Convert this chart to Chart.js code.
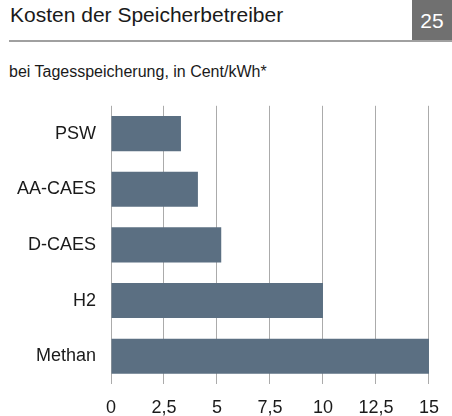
<!DOCTYPE html>
<html>
<head>
<meta charset="utf-8">
<script src="https://cdn.jsdelivr.net/npm/chart.js@4"></script>
<style>
  body { margin: 0; width: 452px; height: 416px; position: relative; background: #fff; font-family: "Liberation Sans", Arial, sans-serif; color: #1a1a1a; overflow: hidden; }
  #title { position: absolute; left: 10px; top: 4px; font-size: 21px; line-height: 21px; white-space: nowrap; }
  #num { position: absolute; left: 412px; top: 0; width: 40px; height: 40px; background: #707070; }
  #num span { position: absolute; left: 0; width: 40px; top: 10px; font-size: 21px; line-height: 21px; text-align: center; color: #fff; }
  #rule { position: absolute; left: 9px; top: 40px; width: 443px; height: 2px; background: #a0a0a0; }
  #sub { position: absolute; left: 9px; top: 64px; font-size: 16px; line-height: 16px; white-space: nowrap; }
  #wrap { position: absolute; left: 0; top: 80px; width: 452px; height: 336px; }
</style>
</head>
<body>
<div id="title">Kosten der Speicherbetreiber</div>
<div id="num"><span>25</span></div>
<div id="rule"></div>
<div id="sub">bei Tagesspeicherung, in Cent/kWh*</div>
<div id="wrap"><canvas id="myChart" width="452" height="336"></canvas></div>
<script>
// Kategorien und Werte (Cent/kWh)
const categories = ["PSW", "AA-CAES", "D-CAES", "H2", "Methan"];
const costValues = [3.3, 4.1, 5.2, 10, 15];
const xTicks = [0, 2.5, 5, 7.5, 10, 12.5, 15];

window.onload = Main;

function Main() {
  let ctx = document.getElementById("myChart");
  new Chart(ctx, {
    type: "bar",
    data: {
      labels: categories,
      datasets: [
        {
          data: costValues,
          backgroundColor: "#5b6f82",
          borderWidth: 0,
          categoryPercentage: 1,
          barPercentage: 0.63
        }
      ]
    },
    options: {
      indexAxis: "y",
      responsive: false,
      animation: false,
      layout: { padding: { top: 20, right: 0, bottom: 0, left: 0 } },
      plugins: { legend: { display: false }, tooltip: { enabled: false } },
      scales: {
        x: {
          min: 0,
          max: 15,
          afterBuildTicks: axis => { axis.ticks = xTicks.map(v => ({ value: v })); },
          afterFit: axis => { axis.height = 32; },
          grid: { color: "#ababab", lineWidth: 1, drawTicks: false },
          border: { display: false },
          ticks: {
            padding: 13,
            color: "#1a1a1a",
            font: { family: "Liberation Sans", size: 18 },
            callback: v => String(v).replace(".", ",")
          }
        },
        y: {
          afterFit: axis => { axis.width = 111; },
          grid: { display: false, drawTicks: false },
          border: { display: false },
          ticks: {
            padding: 15,
            color: "#1a1a1a",
            font: { family: "Liberation Sans", size: 18 }
          }
        }
      }
    }
  });
}
</script>
</body>
</html>
